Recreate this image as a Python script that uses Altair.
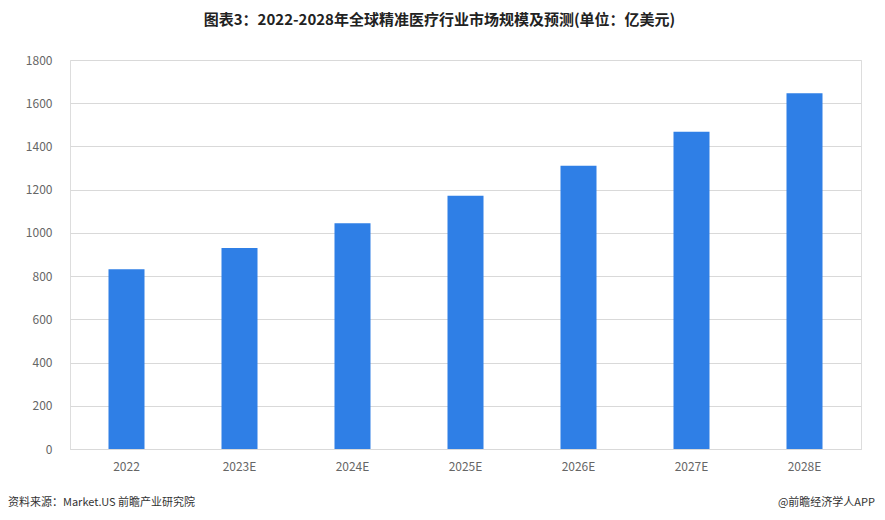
import altair as alt
import pandas as pd

years = ["2022", "2023E", "2024E", "2025E", "2026E", "2027E", "2028E"]
values = [832, 930, 1045, 1172, 1311, 1468, 1646]
title_text = "图表3：2022-2028年全球精准医疗行业市场规模及预测(单位：亿美元)"
source_text = "资料来源：Market.US 前瞻产业研究院"
credit_text = "@前瞻经济学人APP"

df = pd.DataFrame({"year": years, "value": values})
FONT = "Noto Sans CJK SC"

bars = alt.Chart(df).mark_bar(color="#2F7FE6", size=36).encode(
    x=alt.X("year:N", sort=years, title=None,
            scale=alt.Scale(paddingInner=0.68, paddingOuter=0.34),
            axis=alt.Axis(labelAngle=0, ticks=False, domain=True, domainColor="#d9d9d9",
                          labelPadding=12, labelFontSize=12, labelColor="#666666",
                          labelFont=FONT)),
    y=alt.Y("value:Q", title=None,
            scale=alt.Scale(domain=[0, 1800], nice=False),
            axis=alt.Axis(values=list(range(0, 1801, 200)), format="d", ticks=False, domain=False,
                          gridColor="#d9d9d9", labelPadding=18, labelFontSize=12,
                          labelColor="#666666", labelFont=FONT)),
)

src = alt.Chart(pd.DataFrame({"t": [source_text]})).mark_text(
    align="left", baseline="middle", fontSize=11, font=FONT, color="#333333"
).encode(text="t:N", x=alt.value(-62), y=alt.value(443))

cred = alt.Chart(pd.DataFrame({"t": [credit_text]})).mark_text(
    align="right", baseline="middle", fontSize=11, font=FONT, color="#333333"
).encode(text="t:N", x=alt.value(805), y=alt.value(443))

chart = alt.layer(bars, src, cred).properties(
    width=791, height=389,
    title=alt.Title(title_text, anchor="middle", fontSize=15, font=FONT, fontWeight="bold",
                    color="#222222", offset=26, dx=-26),
    autosize=alt.AutoSizeParams(type="none"),
    padding={"left": 62, "top": 52, "right": 14, "bottom": 62},
).configure_view(stroke=None).configure(background="white")

chart.save("out.html", embed_options={"renderer": "svg", "actions": False})
